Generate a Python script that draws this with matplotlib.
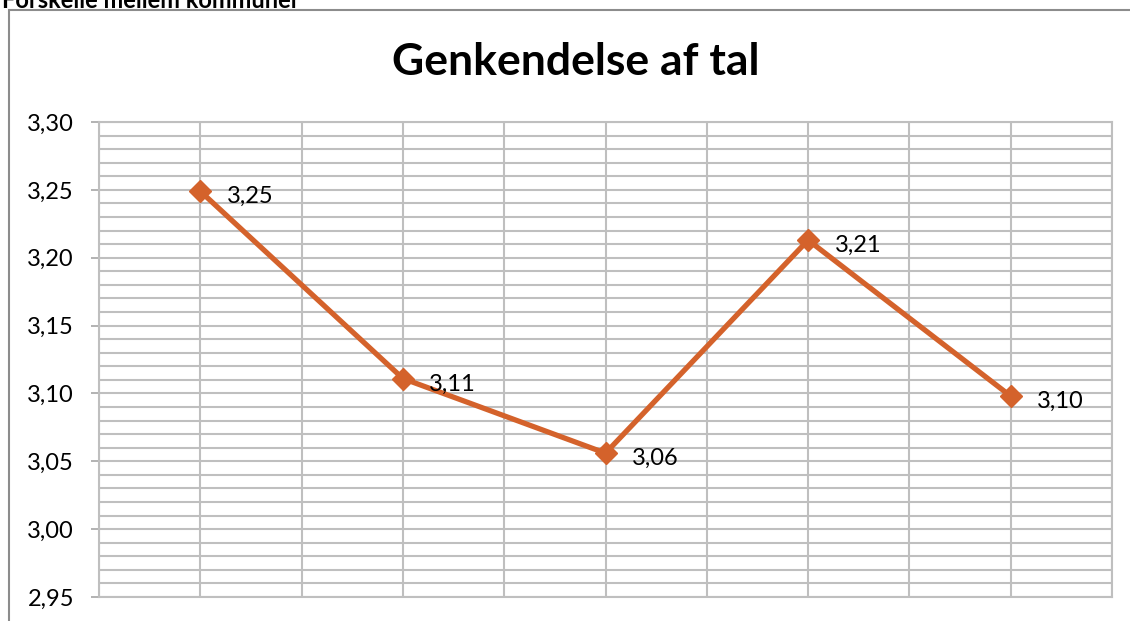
import matplotlib.pyplot as plt
from matplotlib import ticker
from matplotlib.patches import Rectangle

plt.rcParams['font.family'] = ['Lato', 'DejaVu Sans']

# data
kommuner = ['1', '2', '3', '4', '5']
vaerdier = [3.249, 3.111, 3.056, 3.213, 3.098]
etiketter = ['3,25', '3,11', '3,06', '3,21', '3,10']

orange = '#D4622B'
grid_col = '#BFBFBF'

fig = plt.figure(figsize=(11.3, 6.21), dpi=100)

# chart frame (cut off at right and bottom in the original)
fig.patches.append(Rectangle((9 / 1130, -0.1), 1.2, 1 - 10 / 621 + 0.1,
                             transform=fig.transFigure, fill=False,
                             edgecolor='#8C8C8C', linewidth=1.5))
fig.text(0.002, 1 - 8 / 621, 'Forskelle mellem kommuner', fontsize=17,
         fontweight='bold', va='baseline', ha='left')

ax = fig.add_axes([99 / 1130, 1 - 597 / 621, (1112 - 99) / 1130, (597 - 122) / 621])
x = list(range(len(kommuner)))
ax.plot(x, vaerdier, color=orange, linewidth=3.8, marker='D', markersize=11,
        zorder=3)
for xi, v, lab in zip(x, vaerdier, etiketter):
    ax.annotate(lab, (xi, v), xytext=(19, -4), textcoords='offset points',
                ha='left', va='center', fontsize=17)

ax.set_xlim(-0.5, len(kommuner) - 0.5)
ax.set_ylim(2.95, 3.30)
ax.yaxis.set_major_locator(ticker.MultipleLocator(0.05))
ax.yaxis.set_minor_locator(ticker.MultipleLocator(0.01))
ax.yaxis.set_major_formatter(ticker.FuncFormatter(lambda v, p: f'{v:.2f}'.replace('.', ',')))
ax.xaxis.set_major_locator(ticker.MultipleLocator(0.5))
ax.set_xticklabels([])
ax.tick_params(axis='x', length=0)
ax.tick_params(axis='y', which='major', length=6, width=1.2, color='#A6A6A6',
               labelsize=17, pad=12)
ax.tick_params(axis='y', which='minor', length=0)
ax.grid(True, which='both', axis='y', color=grid_col, linewidth=1.5)
ax.grid(True, which='major', axis='x', color=grid_col, linewidth=1.5)
ax.set_axisbelow(True)
for s in ax.spines.values():
    s.set_color(grid_col)
    s.set_linewidth(1.5)

fig.text(576 / 1130, 1 - 62 / 621, 'Genkendelse af tal', fontsize=32,
         fontweight='bold', ha='center', va='center')

fig.savefig('out.png', dpi=100)
